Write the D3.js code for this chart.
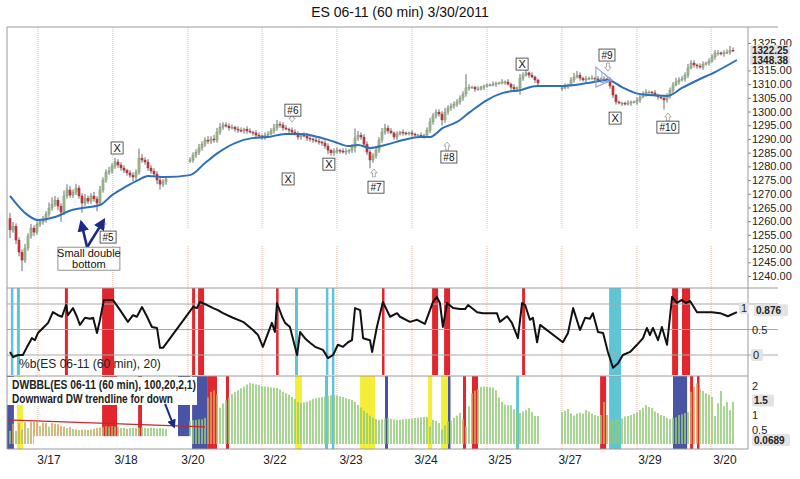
<!DOCTYPE html>
<html>
<head>
<meta charset="utf-8">
<script src="https://cdnjs.cloudflare.com/ajax/libs/d3/7.8.5/d3.min.js"></script>
<style>
  body { margin: 0; background: #fff; }
  svg { display: block; font-family: "Liberation Sans", Arial, sans-serif; }
</style>
</head>
<body>
<svg id="chart" width="800" height="479"></svg>
<script>
// ---- data ----
var title = "ES 06-11 (60 min) 3/30/2011";

// 60 min bars, null = no bars drawn
var closes = [
  1256.8,1258.2,1253.1,1248.7,1245.8,1250.2,1254.6,1257.5,1256.0,1258.9,
  1259.7,1260.4,1262.6,1264.8,1266.2,1267.7,1265.5,1263.3,1269.2,1271.4,
  1269.5,1270.6,1272.1,1269.2,1266.6,1268.4,1267.3,1269.2,1268.1,1266.6,
  1271.4,1275.0,1277.9,1278.3,1280.1,1281.6,1280.5,1279.4,1278.6,1277.6,
  1276.8,1276.1,1277.9,1283.0,1282.3,1281.6,1279.4,1278.3,1277.2,1275.0,
  1273.5,1274.3,1275.4,
  null,null,null,null,null,null,null,
  1282.3,1284.1,1285.2,1286.7,1288.1,1289.6,1289.2,1290.0,1289.6,1292.5,
  1294.3,1295.1,1294.7,1294.0,1294.3,1293.6,1293.2,1292.9,1293.6,1292.9,
  1292.5,1292.2,1291.4,1291.1,1290.7,1291.4,1291.8,1292.9,1294.0,1295.4,
  1295.1,1294.0,1293.6,1293.2,1292.5,1291.8,1290.7,1291.4,1291.1,1290.3,
  1290.0,1289.6,1289.2,1288.9,1288.5,1287.4,1285.9,1284.9,1285.6,1285.9,
  1285.6,1285.2,1285.6,1285.9,1287.0,1290.3,1291.4,1290.7,1288.1,1285.2,
  1282.3,1283.8,1285.9,1289.6,1292.5,1294.0,1292.9,1292.2,1290.7,1291.8,
  1292.5,1292.2,1291.8,1292.2,1291.8,1291.4,1291.4,1291.1,1291.4,1293.2,
  1296.2,1298.4,1299.8,1299.1,1296.9,1299.8,1301.3,1302.0,1302.7,1303.5,
  1304.9,1306.4,1308.6,1308.9,1308.9,1308.2,1308.2,1308.9,1309.3,1309.7,
  1309.7,1310.0,1310.4,1310.4,1310.8,1310.8,1310.0,1308.9,1308.2,1308.6,
  1312.2,1313.3,1314.1,1313.3,1312.6,1311.5,1310.4,
  null,null,null,null,null,null,null,
  1308.6,1309.3,1309.7,1311.5,1312.6,1313.3,1312.2,1311.5,1311.9,1312.2,
  1312.2,1311.9,1311.5,1311.9,1311.9,1311.5,1309.3,1306.0,1303.5,1303.1,
  1303.1,1302.7,1303.1,1303.5,1303.5,1304.2,1305.3,1306.4,1307.1,1307.1,
  1306.8,1306.0,1305.3,1304.9,1304.2,1305.7,1307.8,1309.7,1310.8,1311.5,
  1311.9,1313.3,1315.9,1317.7,1317.0,1316.6,1316.2,1317.3,1317.7,1318.4,
  1319.9,1321.4,1321.4,1321.0,1321.4,1321.7,1322.4,1322.25
];
var firstOpen = 1261;
var wickUp = [
  2,1.5,1,1,1,1.5,1,1.5,1,1, 1,1.5,1,2,2.5,1.5,1,1,2,2,
  1.5,1,1.5,1,1,1.5,1,1,1.5,1, 1.5,1,1,1.5,1,1.5,1,1,1,0.5,
  1,1,1,3.5,1.5,1,1,1,1,1, 1,1,1,
  0,0,0,0,0,0,0,
  1,1,1,1.5,1,1,1.5,1,1.5,1.5, 1.5,1,1,1,1,0.5,1,1,0.5,1,
  1,0.5,1,1,0.5,1,1,1,1.5,1.5, 1,1,1,0.5,1,1,1,0.5,1,1,
  1,0.5,1,1,0.5,1,1,0.5,1,1, 0.5,1,1,0.5,1,3.5,1.5,1,1,1,
  1,1,1.5,1,1.5,1.5,1,1,0.5,1, 0.5,1,0.5,0.5,1,0.5,0.5,1,0.5,1,
  1.5,1,1,1,1,1.5,1,1,1,1, 1,1,5,1,0.5,0.5,1,0.5,0.5,0.5,
  0.5,1,0.5,0.5,1,0.5,1,0.5,1,0.5, 1.5,1,1,0.5,1,0.5,0.5,
  0,0,0,0,0,0,0,
  0.5,1,0.5,1,1.5,1.5,1,0.5,1,0.5, 1,0.5,1,0.5,1,0.5,1,0.5,0.5,0.5,
  0.5,0.5,1,0.5,0.5,1,1,1,1,0.5, 0.5,1,0.5,0.5,1,1,1,1,1.5,1,
  1,1,1.5,1,1,0.5,1,1,0.5,1, 1,1,1,0.5,1,1,1.5,1
];
var wickDn = [
  3,1,1.5,1.5,4,1,1,1,1.5,1, 1,1,1,1,1,1,1.5,3.5,1,1,
  1,1,1,1,3.5,1,1,1,1,3, 1,1,1,1,1,1,1,1,1,1,
  1,1.5,1,1,1,1,1,1,1,1.5, 2,1,1,
  0,0,0,0,0,0,0,
  1,1,1,1,1,1,1,1,1,1, 1,1,0.5,1,0.5,1,1,0.5,1,1,
  0.5,1,1,0.5,1,1,1,0.5,1,1, 1,1,0.5,1,1,0.5,1,1,0.5,1,
  1,1,0.5,1,1,1,1.5,1,1,1, 1,0.5,1,1,1,2,1,1,1,1,
  3,1,1,1,1,1,1,0.5,1,1, 0.5,1,0.5,0.5,1,0.5,0.5,0.5,1,1,
  1,1,1,1,2,1,1,1,1,1, 1,1,1,1,0.5,1,0.5,0.5,1,0.5,
  0.5,0.5,1,0.5,0.5,1,0.5,1,1,1, 2.5,1,0.5,1,0.5,1,1,
  0,0,0,0,0,0,0,
  1,0.5,1,0.5,1,0.5,1,0.5,1,0.5, 0.5,1,0.5,1,0.5,1,1,1,1,0.5,
  1,0.5,0.5,1,0.5,1,1,0.5,1,0.5, 1,0.5,1,0.5,3.5,1,1,1,0.5,1,
  0.5,1,1,0.5,1,1,0.5,1,0.5,1, 0.5,1,1,0.5,1,0.5,1,0.5
];

// moving average, [bar, price]
var maPts = [[0,1269.2],[5,1263.0],[9.3,1260.4],[15,1261.5],[20.7,1264.1],[26,1265.1],[30,1265.9],
  [34,1269.5],[38.3,1272.4],[42.7,1275.0],[46,1276.5],[51.7,1276.1],[60,1276.8],[65,1281.2],
  [69.3,1284.9],[75,1288.5],[80.7,1290.3],[86,1290.7],[91.7,1291.8],[97.3,1291.8],[102.7,1290.7],
  [108.3,1288.9],[112.7,1287.4],[116,1287.8],[120,1286.7],[125,1287.8],[131,1289.6],[136.7,1290.7],
  [140,1290.7],[144.3,1294.0],[149,1296.2],[153.3,1299.8],[159,1304.2],[164.3,1306.8],[170,1307.8],
  [175.7,1309.3],[183.3,1309.3],[192.7,1310.4],[199.3,1311.5],[204,1308.9],[208.3,1306.8],
  [212.7,1306.0],[219.3,1305.7],[224,1308.6],[229.3,1311.5],[235,1314.4],[242.3,1318.8]];

// %b(20), [bar, value]
var pctB = [[0,0.06],[1,-0.04],[2.7,0],[4.3,0],[5.7,0.16],[7.3,0.33],[8.3,0.29],[9.3,0.43],[11,0.53],
  [12.7,0.63],[14.3,0.84],[16,0.78],[17.3,0.75],[18.7,0.98],[19.3,0.78],[21,0.92],[22.3,0.75],[23.3,0.59],
  [25,0.73],[26.7,0.71],[27.7,0.73],[29,0.43],[30,0.69],[31.3,1.08],[34.3,1.08],[36.7,0.88],[39.3,0.65],
  [41,0.78],[42.3,0.75],[44,0.94],[45.7,0.75],[47.3,0.55],[49,0.53],[50,0.14],[51,0.14],[61,0.94],
  [62.3,0.92],[63.3,1.04],[65.7,0.98],[67.7,0.92],[69.3,0.88],[71,0.82],[74.3,0.73],[77.7,0.65],[81,0.49],
  [82.7,0.39],[84.3,0.16],[86,0.43],[87.3,0.63],[88.3,0.45],[89,1.02],[90.7,0.75],[91.7,0.63],[93.3,0.55],
  [95.7,0],[96.7,0.45],[98.3,0.33],[100,0.24],[101.7,0.16],[104.3,0.1],[106,-0.06],[107.7,0],[109.3,0.2],
  [111,0.16],[112.7,0.25],[114,0.29],[115,0.92],[116.7,0.88],[117.7,0.33],[120,0.29],[120.7,0.06],
  [122.3,0.55],[124.3,1.04],[126.7,0.75],[129,0.82],[130,0.75],[133.3,0.65],[135.7,0.69],[138.3,0.61],
  [141,1.04],[142.3,1.14],[143.3,1.02],[144.3,0.55],[145.7,1.02],[147.7,0.92],[150,0.9],[151.7,0.9],
  [152.7,0.98],[155.7,0.84],[157.7,0.82],[162.3,0.82],[163.3,0.65],[165.7,0.76],[167.3,0.63],[169.3,0.33],
  [170.7,1.02],[171.7,0.98],[173.3,0.69],[174.3,0.73],[175.7,0.25],[176.7,0.59],[184.3,0.25],[186,0.43],
  [187.7,0.92],[190,0.49],[191.7,0.73],[193.3,0.71],[194.3,0.82],[196,0.45],[197.7,0.43],[199.3,0.06],
  [201,-0.25],[202.7,-0.16],[204.3,0],[206.7,0.06],[209,0.2],[211,0.33],[212.3,0.53],[213.3,0.39],
  [214.3,0.53],[216,0.29],[217.3,0.55],[219,0.2],[220.7,1.14],[222.3,1.02],[224,1.08],[225.3,1.02],
  [226.7,1.06],[229,0.84],[231,0.84],[234,0.84],[236.7,0.82],[239.3,0.76],[242.3,0.84]];

// DWBBL histogram, one value per bar
var dwbbl = [
  0.45,0.7,0.45,0.72,0.5,0.75,0.55,0.76, 0.76,0.75,0.62,0.74,0.73,0.6,0.72,0.7,0.68,
  0.62,0.6,0.55,0.58,0.52,0.5,0.48,0.5,0.5,0.48,0.5,0.52, 0.55,0.57,0.58, 0.62,0.6,0.62,0.6,0.58,
  0.55,0.56,0.52,0.55,0.57,0.55,0.56,0.58,0.55,0.54,0.56,0.55,0.53,0.55,0.54,0.52,
  null,null,null,null,null,null,null,
  0.8,0.82,0.83,0.85,0.85,0.9, 1.6,1.8,1.85,1.7,
  1.25,1.4,1.5,1.6,1.72,1.8,1.85,1.92,1.98,2.05, 2.1,2.08,2.05,2.03,2.0,1.98,1.97,1.95,1.94,1.93,
  1.88,1.8,1.75,1.7,1.62,1.55,1.45,1.42,1.44,1.46, 1.5,1.55,1.58,1.6,1.62,1.64,1.66,1.68,1.69,1.67,
  1.64,1.62,1.58,1.55,1.52,1.45,1.35,1.26,1.15,1.07, 0.98,0.9,0.86,0.83,0.85,0.88,0.9,0.87,0.85,0.83,
  0.84,0.85,0.86,0.87,0.88,0.9,0.91,0.92,0.93,0.93, 0.6,0.83,0.8,0.72,0.5,0.65,0.78,0.8,0.9,0.98,
  1.07,0.85,0.6,1.3,1.75,1.85,1.9,1.97,1.98,1.97, 1.96,1.94,1.85,1.6,1.45,1.36,1.34,1.34,1.2,1.12,
  1.07,1.12,1.17,1.24,1.1,0.97,0.97,
  null,null,null,null,null,null,null,
  1.1,1.15,1.21,1.05,0.98,1.05,1.08,1.05,1.17,1.12, 1.05,1.0,0.97,1.0,1.45,1.0,0.8,0.83,0.86,0.84,
  0.88,0.95,0.97,1.0,1.05,1.1,1.17,1.25,1.34,1.28, 1.24,1.12,1.07,1.0,0.97,0.9,0.86,0.9,0.92,1.0,
  1.02,1.07,1.1,1.8,1.97,2.1,1.9,1.83,1.75,1.7, 1.62,0.97,1.4,1.83,1.3,1.45,1.17,1.45
];
var dwOrangeBars = [1,3,5,7,8,9,11,12,14,15,16,17,18,20,22,24,26,28,29,30,32,34,36,39,42,
  66,67,68,69,151,154,155,198,199,227,228,229];
var dwFloor = [[8, 60.3, 0.27]];
var dwTrend = [[-1, 0.83], [65, 0.59]];

// signal bands [fromBar, toBar, colour key]
var midBands = [[0.3,1,"c"],[2.3,3.3,"c"],[18.3,19.3,"r"],[30.7,34.7,"r"],[60.7,61.7,"r"],[62.7,64.7,"r"],
  [88.7,89.3,"r"],[95,96,"c"],[105.3,106,"c"],[107.3,108,"c"],[124,124.7,"r"],[140.7,142.7,"r"],
  [144.7,146.7,"r"],[170.7,171.7,"r"],[199.7,203.7,"c"],[220.7,222.7,"r"],[224,226.7,"r"]];
var lowBands = [[-1,1.3,"b"],[2.3,4.3,"y"],[30.7,35.7,"r"],[42.7,44,"r"],[56,60,"b"],[60.7,65.7,"b"],
  [65.7,69,"r"],[72,73,"r"],[95,97.3,"y"],[105,106,"c"],[107.3,108,"c"],[116.7,121.7,"y"],[125,126,"b"],
  [139.3,140.7,"y"],[143.7,146,"y"],[146,146.7,"b"],[151,152,"r"],[154,156,"r"],[168.7,169.7,"c"],
  [196.7,198.7,"r"],[199.7,203.7,"c"],[221,225.7,"b"],[226.7,227.7,"r"],[229,229.7,"r"]];

var daySepBars = [9.3, 34.3, 59.3, 84, 109, 134, 159, 184, 209, 233.7];
var dayLabels = ["3/17","3/18","3/20","3/22","3/23","3/24","3/25","3/27","3/29","3/20"];
var dayLabelBars = [13, 38.7, 61, 88.3, 113.7, 138.7, 163.3, 186.7, 213.3, 238.3];

var priceTicks = [1240,1245,1250,1255,1260,1265,1270,1275,1280,1285,1290,1295,1300,1305,1310,1315,1325];
var lastPrice = 1322.25, maTag = "1348.38";
var pctBLast = "0.876", dwLast = "0.0689", dwTag = "1.5";

var notes = [{t:"X",i:35.7,p:1286.7},{t:"X",i:92.7,p:1275.4},{t:"X",i:106.3,p:1280.8},
  {t:"X",i:170.7,p:1317.3},{t:"X",i:201.7,p:1297.6},{t:"#5",i:32.7,p:1254.2},{t:"#6",i:94.3,p:1300.5},
  {t:"#7",i:122,p:1272.4},{t:"#8",i:146.3,p:1283.4},{t:"#9",i:199,p:1320.6},{t:"#10",i:219.3,p:1294.3}];
var hintArrows = [[31,1258.9,"u"],[94,1297.6,"d"],[121.3,1277.6,"u"],[145.7,1287.4,"u"],
  [199.3,1316.2,"d"],[219.3,1298.0,"u"]];
var triOuter = [[195.3,1316.2],[200.7,1311.5],[195.3,1308.9]];
var triInner = [[197.3,1314.4],[200,1311.7],[197.3,1310.4]];
var dblBottom = {base:[25.7,1250.5], tips:[[23.7,1259.7],[31.3,1260.4]], box:[26.3,1246.5]};
var dwArrow = [[51.7,1.38],[54.7,0.59]];

// ---- drawing ----
var bandColor = {r:"#e2262d", c:"#5fc4d4", b:"#4a54a4", y:"#f5ee38"};
var svg = d3.select("#chart");
var left = 7, axisX = 748, frameR = 778;
var main = {top: 27, bottom: 288}, mid = {top: 288, bottom: 375}, low = {top: 376, bottom: 449};

var x = d3.scaleLinear().domain([0, 241]).range([10, 733]);
var yP = d3.scaleLinear().domain([1240, 1325]).range([276, 43]);
var yB = d3.scaleLinear().domain([0, 1]).range([355, 304]);
var yW = d3.scaleLinear().domain([0, 2]).range([444, 386]);

var defs = svg.append("defs");
defs.append("marker").attr("id", "head").attr("viewBox", "0 0 10 10")
    .attr("refX", 8).attr("refY", 5).attr("markerWidth", 4.5).attr("markerHeight", 4.5)
    .attr("orient", "auto-start-reverse")
  .append("path").attr("d", "M0,0L10,5L0,10z").attr("fill", "#1b2a85");

svg.append("text").attr("x", 400).attr("y", 17).attr("text-anchor", "middle")
    .attr("font-size", 14).attr("fill", "#111").text(title);

// day separators
function daySeps(y0, y1) {
  svg.append("g").selectAll("line").data(daySepBars).enter().append("line")
      .attr("x1", function(d) { return x(d); }).attr("x2", function(d) { return x(d); })
      .attr("y1", y0).attr("y2", y1)
      .attr("stroke", "#f2b39c").attr("stroke-dasharray", "1,1");
}
daySeps(main.top, 228);
daySeps(246, main.bottom);
daySeps(mid.top, mid.bottom);
daySeps(low.top, low.bottom);

// candles
var bars = [];
closes.forEach(function(c, i) {
  if (c === null) return;
  var o = i === 0 ? firstOpen : (closes[i - 1] === null ? c : closes[i - 1]);
  bars.push({i: i, o: o, c: c, h: Math.max(o, c) + wickUp[i], l: Math.min(o, c) - wickDn[i]});
});
var gBars = svg.append("g");
gBars.selectAll("line").data(bars).enter().append("line")
    .attr("x1", function(d) { return x(d.i); }).attr("x2", function(d) { return x(d.i); })
    .attr("y1", function(d) { return yP(d.h); }).attr("y2", function(d) { return yP(d.l); })
    .attr("stroke", "#5e5e5e").attr("stroke-width", 0.9);
gBars.selectAll("rect").data(bars).enter().append("rect")
    .attr("x", function(d) { return x(d.i) - 1.1; }).attr("width", 2.2)
    .attr("y", function(d) { return yP(Math.max(d.o, d.c)); })
    .attr("height", function(d) { return Math.max(1, Math.abs(yP(d.o) - yP(d.c))); })
    .attr("fill", function(d) { return d.c >= d.o ? "#98b685" : "#c2353a"; })
    .attr("stroke", function(d) { return d.c >= d.o ? "#6f8560" : "#9a2a2e"; })
    .attr("stroke-width", 0.3);

// moving average
svg.append("path").datum(maPts)
    .attr("d", d3.line().x(function(d) { return x(d[0]); }).y(function(d) { return yP(d[1]); }).curve(d3.curveMonotoneX))
    .attr("fill", "none").attr("stroke", "#2e6fb7").attr("stroke-width", 2);

// annotations on price pane
svg.append("polygon").attr("points", triOuter.map(function(d) { return x(d[0]) + "," + yP(d[1]); }).join(" "))
    .attr("fill", "none").attr("stroke", "#8fa6dc").attr("stroke-width", 1.2);
svg.append("polygon").attr("points", triInner.map(function(d) { return x(d[0]) + "," + yP(d[1]); }).join(" "))
    .attr("fill", "none").attr("stroke", "#8fa6dc").attr("stroke-width", 1);

svg.append("g").selectAll("path").data(hintArrows).enter().append("path")
    .attr("transform", function(d) { return "translate(" + x(d[0]) + "," + yP(d[1]) + ")" + (d[2] === "d" ? " rotate(180)" : ""); })
    .attr("d", "M0,-4L3.2,0L1.4,0L1.4,4L-1.4,4L-1.4,0L-3.2,0Z")
    .attr("fill", "#fff").attr("stroke", "#999").attr("stroke-width", 0.8);

var gNotes = svg.append("g").selectAll("g").data(notes).enter().append("g")
    .attr("transform", function(d) { return "translate(" + x(d.i) + "," + yP(d.p) + ")"; });
gNotes.append("rect")
    .attr("x", function(d) { return d.t === "X" ? -6 : -(d.t.length * 3 + 2); })
    .attr("width", function(d) { return d.t === "X" ? 12 : d.t.length * 6 + 4; })
    .attr("y", -6).attr("height", 12)
    .attr("fill", "#fff").attr("stroke", "#333").attr("stroke-width", 0.8);
gNotes.append("text").attr("text-anchor", "middle").attr("y", 3.8)
    .attr("font-size", function(d) { return d.t === "X" ? 11 : 10; })
    .attr("fill", "#111").text(function(d) { return d.t; });

dblBottom.tips.forEach(function(t) {
  svg.append("line")
      .attr("x1", x(dblBottom.base[0])).attr("y1", yP(dblBottom.base[1]))
      .attr("x2", x(t[0])).attr("y2", yP(t[1]))
      .attr("stroke", "#1b2a85").attr("stroke-width", 2.6).attr("marker-end", "url(#head)");
});
var bx = x(dblBottom.box[0]), by = yP(dblBottom.box[1]);
svg.append("rect").attr("x", bx - 31).attr("y", by - 11).attr("width", 62).attr("height", 23)
    .attr("fill", "#fff").attr("stroke", "#777").attr("stroke-width", 0.8);
svg.append("text").attr("x", bx).attr("y", by - 1).attr("text-anchor", "middle")
    .attr("font-size", 11).attr("fill", "#111").text("Small double");
svg.append("text").attr("x", bx).attr("y", by + 9.5).attr("text-anchor", "middle")
    .attr("font-size", 11).attr("fill", "#111").text("bottom");

// %b pane
svg.append("g").selectAll("rect").data(midBands).enter().append("rect")
    .attr("x", function(d) { return x(d[0]); })
    .attr("width", function(d) { return Math.max(2.5, x(d[1]) - x(d[0])); })
    .attr("y", mid.top).attr("height", mid.bottom - mid.top)
    .attr("fill", function(d) { return bandColor[d[2]]; });
svg.append("g").selectAll("line").data([1, 0.5, 0]).enter().append("line")
    .attr("x1", left).attr("x2", frameR)
    .attr("y1", function(d) { return yB(d); }).attr("y2", function(d) { return yB(d); })
    .attr("stroke", "#a9a9a9");
svg.append("path").datum(pctB)
    .attr("d", d3.line().x(function(d) { return x(d[0]); }).y(function(d) { return yB(d[1]); }))
    .attr("fill", "none").attr("stroke", "#111").attr("stroke-width", 2).attr("stroke-linejoin", "round");
svg.append("text").attr("x", 19).attr("y", 368).attr("font-size", 12).attr("fill", "#222")
    .text("%b(ES 06-11 (60 min), 20)");

// DWBBL pane
svg.append("g").selectAll("rect").data(lowBands).enter().append("rect")
    .attr("x", function(d) { return x(d[0]); })
    .attr("width", function(d) { return Math.max(2.5, x(d[1]) - x(d[0])); })
    .attr("y", low.top).attr("height", low.bottom - low.top)
    .attr("fill", function(d) { return bandColor[d[2]]; });
var dwData = [];
dwbbl.forEach(function(v, i) { if (v !== null) dwData.push({i: i, v: v, o: dwOrangeBars.indexOf(i) >= 0}); });
svg.append("g").selectAll("rect").data(dwData).enter().append("rect")
    .attr("x", function(d) { return x(d.i) - 0.8; }).attr("width", 1.6)
    .attr("y", function(d) { return yW(d.v); })
    .attr("height", function(d) { return yW(0) - yW(d.v); })
    .attr("fill", function(d) { return d.o ? "#d7a25c" : "#92cb78"; });
svg.append("g").selectAll("rect").data(dwFloor).enter().append("rect")
    .attr("x", function(d) { return x(d[0]); }).attr("width", function(d) { return x(d[1]) - x(d[0]); })
    .attr("y", function(d) { return yW(d[2]); }).attr("height", function(d) { return low.bottom - yW(d[2]); })
    .attr("fill", "#fff");
svg.append("line")
    .attr("x1", x(dwTrend[0][0])).attr("y1", yW(dwTrend[0][1]))
    .attr("x2", x(dwTrend[1][0])).attr("y2", yW(dwTrend[1][1]))
    .attr("stroke", "#c8262b").attr("stroke-width", 1.2);
svg.append("rect").attr("x", left).attr("y", low.top + 1).attr("width", 190).attr("height", 28).attr("fill", "#fff");
svg.append("text").attr("x", 12).attr("y", 389).attr("font-size", 12).attr("font-weight", "bold")
    .attr("fill", "#222").attr("textLength", 184).attr("lengthAdjust", "spacingAndGlyphs")
    .text("DWBBL(ES 06-11 (60 min), 100,20,2,1)");
svg.append("text").attr("x", 12).attr("y", 403).attr("font-size", 12).attr("font-weight", "bold")
    .attr("fill", "#222").attr("textLength", 161).attr("lengthAdjust", "spacingAndGlyphs")
    .text("Downward DW trendline for down");
svg.append("line")
    .attr("x1", x(dwArrow[0][0])).attr("y1", yW(dwArrow[0][1]))
    .attr("x2", x(dwArrow[1][0])).attr("y2", yW(dwArrow[1][1]))
    .attr("stroke", "#1b2a85").attr("stroke-width", 2).attr("marker-end", "url(#head)");

// frame
var frame = svg.append("g").attr("stroke", "#9a9a9a").attr("fill", "none");
frame.append("line").attr("x1", left).attr("x2", frameR).attr("y1", main.top).attr("y2", main.top);
frame.append("line").attr("x1", left).attr("x2", frameR).attr("y1", main.bottom).attr("y2", main.bottom);
frame.append("line").attr("x1", left).attr("x2", axisX).attr("y1", low.top).attr("y2", low.top);
frame.append("line").attr("x1", left).attr("x2", axisX).attr("y1", low.bottom).attr("y2", low.bottom);
frame.append("line").attr("x1", left).attr("x2", left).attr("y1", main.top).attr("y2", low.bottom);
frame.append("line").attr("x1", axisX).attr("x2", axisX).attr("y1", main.top).attr("y2", low.bottom);

// axes
var pAxis = svg.append("g").attr("transform", "translate(" + axisX + ",0)")
    .call(d3.axisRight(yP).tickValues(priceTicks).tickSize(3).tickPadding(1).tickFormat(d3.format(".2f")));
pAxis.select(".domain").remove();
pAxis.selectAll("line").attr("stroke", "#888");
pAxis.selectAll("text").attr("font-size", 11).attr("font-family", "Liberation Sans, Arial").attr("fill", "#222");

function tag(tx, ty, txt, w, bold, h) {
  h = h || 12;
  svg.append("rect").attr("x", tx - 2).attr("y", ty - h / 2).attr("width", w).attr("height", h)
      .attr("rx", 2).attr("fill", "#e3e3e3");
  svg.append("text").attr("x", tx).attr("y", ty + 3.6).attr("font-size", bold ? 10 : 11)
      .attr("font-weight", bold ? "bold" : "normal").attr("fill", "#222").text(txt);
}
tag(752, yP(lastPrice) - 0.5, d3.format(".2f")(lastPrice), 40, true, 10);
tag(752, yP(lastPrice) + 9.5, maTag, 40, true, 10);

function plainLabel(tx, ty, txt) {
  svg.append("text").attr("x", tx).attr("y", ty + 4).attr("font-size", 11).attr("fill", "#222").text(txt);
}
plainLabel(752, yB(0.5), "0.5");
tag(753, yB(0), "0", 12, false);
tag(741, yB(0.876) - 2, "1", 10, false);
tag(756, yB(0.876), pctBLast, 34, true);

plainLabel(752, yW(2), "2");
plainLabel(752, yW(1), "1");
plainLabel(752, yW(0.5), "0.5");
tag(754, yW(1.5), dwTag, 22, true);
tag(754, yW(0.0689) - 2, dwLast, 38, true);

svg.append("g").selectAll("text").data(dayLabels).enter().append("text")
    .attr("x", function(d, i) { return x(dayLabelBars[i]); }).attr("y", 464)
    .attr("text-anchor", "middle").attr("font-size", 12).attr("fill", "#222")
    .text(function(d) { return d; });
</script>
</body>
</html>
